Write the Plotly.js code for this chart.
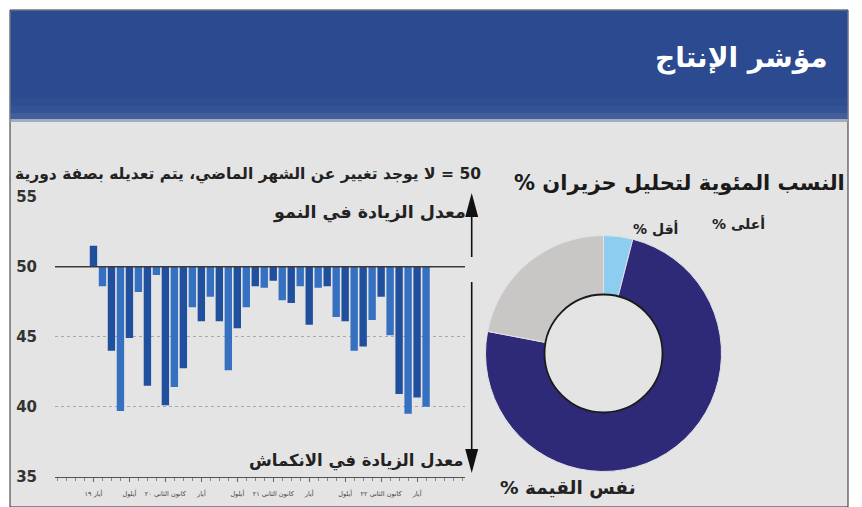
<!DOCTYPE html>
<html>
<head>
<meta charset="utf-8">
<script src="https://cdn.plot.ly/plotly-3.0.1.min.js"></script>
<style>
html,body{margin:0;padding:0;background:#fff;}
#chart{width:862px;height:507px;}
</style>
</head>
<body>
<div id="chart"></div>
<script>
// ---- data ----
const monthIndex = Array.from({length: 38}, (_, i) => i);
const productionIndex = [51.5, 48.6, 44.0, 39.7, 44.9, 48.2, 41.5, 49.4, 40.1, 41.4,
  42.75, 47.1, 46.1, 47.85, 46.1, 42.6, 45.6, 47.1, 48.6, 48.5,
  49.0, 47.6, 47.4, 48.6, 45.85, 48.5, 48.6, 46.4, 46.1, 44.0,
  44.3, 46.2, 47.85, 45.1, 40.9, 39.5, 40.65, 40.0];
const neutralLevel = 50;
const xTickVals = [0, 4, 8, 12, 16, 20, 24, 28, 32, 36];
const xTickText = ["أيار ١٩", "أيلول", "كانون الثاني ٢٠", "أيار", "أيلول", "كانون الثاني ٢١", "أيار", "أيلول", "كانون الثاني ٢٢", "أيار"];
const yTickVals = [35, 40, 45, 50, 55];

const pieLabels = ["أقل %", "نفس القيمة %", "أعلى %"];
const pieValues = [4, 74, 22];
const pieColors = ["#8ccdf0", "#2e2a78", "#c9c7c5"];

// ---- helpers (pixel -> paper) ----
const W = 862, H = 507;
const px = x => x / W;
const py = y => 1 - y / H;
const RLM = "\u200F";

const barColors = productionIndex.map((v, i) => i % 2 === 0 ? "#1f4f9d" : "#3670c0");

const bars = {
  type: "bar",
  x: monthIndex,
  y: productionIndex.map(v => v - neutralLevel),
  base: neutralLevel,
  marker: {color: barColors, line: {width: 0}},
  xaxis: "x", yaxis: "y",
  hoverinfo: "skip",
  showlegend: false
};

const donut = {
  type: "pie",
  labels: pieLabels,
  values: pieValues,
  sort: false,
  direction: "clockwise",
  rotation: 0,
  hole: 0.5,
  textinfo: "none",
  hoverinfo: "skip",
  marker: {colors: pieColors, line: {color: "#e2e2e6", width: 1}},
  domain: {x: [px(485.5), px(721.5)], y: [py(471.5), py(235.5)]},
  showlegend: false
};

const arFont = "DejaVu Sans, Noto Sans, sans-serif";

const shapes = [
  // panel
  {type: "rect", xref: "paper", yref: "paper", x0: px(10), x1: px(848), y0: py(507), y1: py(10),
   fillcolor: "#e4e4e4", line: {color: "#2a2a2a", width: 1}, layer: "below"},
  // header
  {type: "rect", xref: "paper", yref: "paper", x0: px(10.5), x1: px(847.5), y0: py(98), y1: py(10.5),
   fillcolor: "#2b4a8f", line: {width: 0}, layer: "below"},
  {type: "rect", xref: "paper", yref: "paper", x0: px(10.5), x1: px(847.5), y0: py(106), y1: py(98),
   fillcolor: "#2e4e91", line: {width: 0}, layer: "below"},
  {type: "rect", xref: "paper", yref: "paper", x0: px(10.5), x1: px(847.5), y0: py(113), y1: py(106),
   fillcolor: "#345394", line: {width: 0}, layer: "below"},
  {type: "rect", xref: "paper", yref: "paper", x0: px(10.5), x1: px(847.5), y0: py(119), y1: py(113),
   fillcolor: "#435f99", line: {width: 0}, layer: "below"},
  {type: "rect", xref: "paper", yref: "paper", x0: px(10.5), x1: px(847.5), y0: py(122), y1: py(119),
   fillcolor: "#a3acbf", line: {width: 0}, layer: "below"},
  // 50 baseline
  {type: "line", xref: "paper", yref: "y", x0: px(55), x1: px(465), y0: neutralLevel, y1: neutralLevel,
   line: {color: "#3a3a3a", width: 1.6}},
  // up arrow
  {type: "line", xref: "paper", yref: "paper", x0: px(471.7), x1: px(471.7), y0: py(212), y1: py(257),
   line: {color: "#111", width: 1.6}},
  {type: "path", xref: "paper", yref: "paper",
   path: `M ${px(471.7)} ${py(193)} L ${px(478.2)} ${py(217)} L ${px(465.2)} ${py(217)} Z`,
   fillcolor: "#111", line: {width: 0}},
  // down arrow
  {type: "line", xref: "paper", yref: "paper", x0: px(471.7), x1: px(471.7), y0: py(282), y1: py(455),
   line: {color: "#111", width: 1.6}},
  {type: "path", xref: "paper", yref: "paper",
   path: `M ${px(471.7)} ${py(473)} L ${px(478.2)} ${py(449)} L ${px(465.2)} ${py(449)} Z`,
   fillcolor: "#111", line: {width: 0}},
  // donut hole outline
  {type: "circle", xref: "paper", yref: "paper", x0: px(603.5 - 59), x1: px(603.5 + 59),
   y0: py(353.5 + 59), y1: py(353.5 - 59), line: {color: "#1a1a1a", width: 1.8}, layer: "above"}
];

const annotations = [
  {text: "مؤشر الإنتاج", xref: "paper", yref: "paper", x: px(830), y: py(58), xanchor: "right", yanchor: "middle",
   showarrow: false, font: {family: arFont, size: 28, color: "#ffffff", weight: "bold"}},
  {text: RLM + "50 = لا يوجد تغيير عن الشهر الماضي، يتم تعديله بصفة دورية", xref: "paper", yref: "paper",
   x: px(483), y: py(174), xanchor: "right", yanchor: "middle", showarrow: false,
   font: {family: arFont, size: 15.5, color: "#222", weight: "bold"}},
  {text: "معدل الزيادة في النمو", xref: "paper", yref: "paper", x: px(468), y: py(212), xanchor: "right", yanchor: "middle",
   showarrow: false, font: {family: arFont, size: 17.5, color: "#222", weight: "bold"}},
  {text: "معدل الزيادة في الانكماش", xref: "paper", yref: "paper", x: px(466), y: py(461), xanchor: "right", yanchor: "middle",
   showarrow: false, font: {family: arFont, size: 16.5, color: "#222", weight: "bold"}},
  {text: "النسب المئوية لتحليل حزيران %" + RLM, xref: "paper", yref: "paper", x: px(847), y: py(183), xanchor: "right", yanchor: "middle",
   showarrow: false, font: {family: arFont, size: 21, color: "#1a1a1a", weight: "bold"}},
  {text: pieLabels[2] + RLM, xref: "paper", yref: "paper", x: px(738), y: py(223), xanchor: "center", yanchor: "middle",
   showarrow: false, font: {family: arFont, size: 14, color: "#222", weight: "bold"}},
  {text: pieLabels[0] + RLM, xref: "paper", yref: "paper", x: px(655), y: py(228), xanchor: "center", yanchor: "middle",
   showarrow: false, font: {family: arFont, size: 14, color: "#222", weight: "bold"}},
  {text: pieLabels[1] + RLM, xref: "paper", yref: "paper", x: px(568), y: py(488), xanchor: "center", yanchor: "middle",
   showarrow: false, font: {family: arFont, size: 18.5, color: "#222", weight: "bold"}}
];

const layout = {
  width: W, height: H,
  margin: {l: 0, r: 0, t: 0, b: 0},
  paper_bgcolor: "#ffffff",
  plot_bgcolor: "rgba(0,0,0,0)",
  bargap: 0.18,
  showlegend: false,
  xaxis: {
    domain: [px(55), px(465)],
    range: [-4.28, 41.33],
    tickmode: "array", tickvals: xTickVals, ticktext: xTickText,
    tickfont: {family: arFont, size: 6.5, color: "#444"},
    ticks: "outside", ticklen: 4, tickcolor: "#666", tickwidth: 1,
    minor: {dtick: 1, tick0: 0, ticks: "outside", ticklen: 3, tickcolor: "#888", showgrid: false},
    showline: true, linecolor: "#555", linewidth: 1.2,
    showgrid: false, zeroline: false, fixedrange: true,
    ticklabelstandoff: 6
  },
  yaxis: {
    domain: [py(476.7), py(196.7)],
    range: [35, 55],
    tickmode: "array", tickvals: yTickVals,
    tickfont: {family: arFont, size: 15, color: "#333", weight: "bold"},
    showgrid: true, gridcolor: "#a8a8a8", griddash: "dot", gridwidth: 1,
    zeroline: false, showline: false, ticks: "",
    ticklabelstandoff: 17, fixedrange: true
  },
  shapes: shapes,
  annotations: annotations
};

Plotly.newPlot("chart", [bars, donut], layout, {staticPlot: true, displayModeBar: false});
</script>
</body>
</html>
